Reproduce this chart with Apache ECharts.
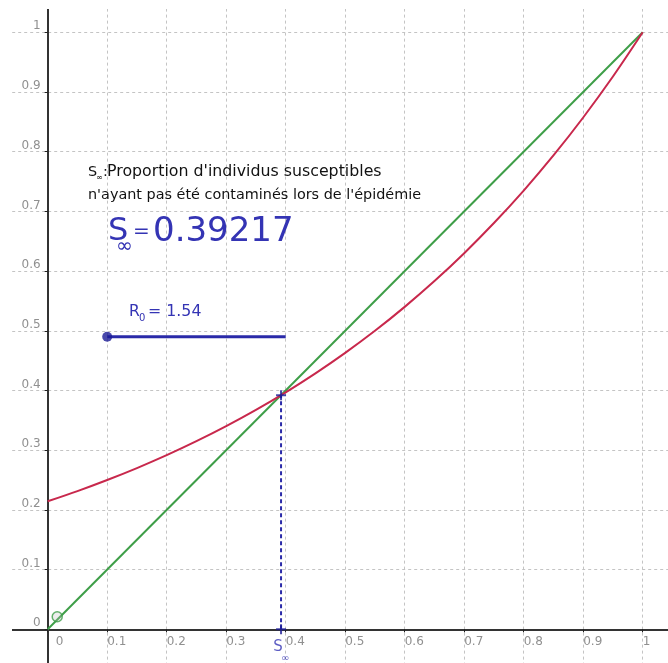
<!DOCTYPE html>
<html><head><meta charset="utf-8">
<script src="https://cdn.jsdelivr.net/npm/echarts@6/dist/echarts.min.js"></script>
<style>html,body{margin:0;padding:0;background:#fff}#c{width:668px;height:663px}</style>
</head><body><div id="c"></div>
<script>
// Red curve
const curveX = [0, 0.05, 0.1, 0.15, 0.2, 0.25, 0.3, 0.35, 0.4, 0.45, 0.5, 0.55, 0.6, 0.65, 0.7, 0.75, 0.8, 0.85, 0.9, 0.95, 1];
const curveY = [0.2144, 0.2315, 0.2501, 0.2701, 0.2917, 0.3151, 0.3403, 0.3675, 0.3969, 0.4287, 0.4630, 0.5000, 0.5401, 0.5833, 0.6300, 0.6805, 0.7349, 0.7937, 0.8573, 0.9259, 1];
// Green line y = x
const diagX = [0, 1];
const diagY = [0, 1];
// Values
const sInf = 0.39217;
const r0 = 1.54;
const sliderX = [0.1, 0.4];
const sliderY = 0.49;
const knobX = 0.1;
const originPoint = [0.016, 0.021];
const axisMin = -0.1, axisMax = 1.1, tickStep = 0.1;

const zip = (xs, ys) => xs.map((x, i) => [x, ys[i]]);
const FONT = '"DejaVu Sans", Verdana, sans-serif';
const fmtX = v => {
  if (v < -1e-9 || v > 1 + 1e-9) return '';
  const s = String(Math.round(v * 10) / 10);
  return Math.abs(v) < 1e-9 ? '{z|0}' : s;
};
const fmtY = v => (v < -1e-9 || v > 1 + 1e-9) ? '' : String(Math.round(v * 10) / 10);
const blue = '#2a2aa8';
const textBlue = '#3434b4';
const plus = 'path://M4,0H6V4H10V6H6V10H4V6H0V4H4Z';

const chart = echarts.init(document.getElementById('c'));
chart.setOption({
  animation: false,
  grid: { left: -11.8, top: -27.4, width: 714, height: 716.4, containLabel: false, outerBoundsMode: 'none' },
  xAxis: {
    type: 'value', min: axisMin, max: axisMax, interval: tickStep, position: 'bottom', offset: -59.7,
    axisLine: { onZero: false, lineStyle: { color: '#333', width: 2 } },
    axisTick: { show: true, length: 3, lineStyle: { color: '#222', width: 1 } },
    axisLabel: { formatter: fmtX, color: '#909090', fontSize: 12, fontFamily: FONT, align: 'left', margin: 7,
      rich: { z: { padding: [0, 0, 0, 8], color: '#909090', fontSize: 12, fontFamily: FONT } } },
    splitLine: { show: true, lineStyle: { color: '#c4c4c4', type: [3, 3], width: 1 } }
  },
  yAxis: {
    type: 'value', min: axisMin, max: axisMax, interval: tickStep, position: 'left', offset: -59.5,
    axisLine: { onZero: false, lineStyle: { color: '#333', width: 2 } },
    axisTick: { show: true, length: 3, lineStyle: { color: '#222', width: 1 } },
    axisLabel: { formatter: fmtY, color: '#909090', fontSize: 12, fontFamily: FONT, align: 'right', verticalAlign: 'bottom', margin: 7 },
    splitLine: { show: true, lineStyle: { color: '#c4c4c4', type: [3, 3], width: 1 } }
  },
  series: [
    { type: 'line', data: zip(diagX, diagY), symbol: 'none', lineStyle: { color: '#3e9e48', width: 2 }, z: 3 },
    { type: 'line', data: zip(curveX, curveY), symbol: 'none', smooth: 0.3, lineStyle: { color: '#c8284c', width: 2 }, z: 3 },
    { type: 'line', data: [[sInf, 0], [sInf, sInf]], symbol: 'none', lineStyle: { color: blue, width: 2, type: [4, 3] }, z: 4 },
    { type: 'line', data: [[sliderX[0], sliderY], [sliderX[1], sliderY]], symbol: 'none', lineStyle: { color: blue, width: 3 }, z: 4 },
    { type: 'scatter', data: [[knobX, sliderY]], symbol: 'circle', symbolSize: 10, itemStyle: { color: '#1c1c96' }, z: 5 },
    { type: 'scatter', data: [[sInf, sInf]], symbol: plus, symbolSize: 10, itemStyle: { color: '#1c1c96' }, z: 6 },
    { type: 'scatter', data: [[sInf, 0]], symbol: plus, symbolSize: 10, itemStyle: { color: '#1c1c96' }, z: 6,
      label: { show: true, position: 'bottom', distance: 7, offset: [-3, 0], formatter: '{s|S}\n{i|∞}',
        rich: { s: { color: textBlue, fontSize: 15, fontFamily: FONT, lineHeight: 12 }, i: { color: textBlue, fontSize: 10, fontFamily: FONT, padding: [0, 0, 0, 14], lineHeight: 10 } } } },
    { type: 'scatter', data: [originPoint], symbol: 'circle', symbolSize: 10, itemStyle: { color: 'rgba(190,190,190,0.35)', borderColor: '#3e9e48', borderWidth: 1.5 }, z: 6 }
  ],
  graphic: [
    { type: 'rect', shape: { x: 0, y: 0, width: 12, height: 663 }, style: { fill: '#fff' }, z: 100 },
    { type: 'rect', shape: { x: 0, y: 0, width: 668, height: 9 }, style: { fill: '#fff' }, z: 100 },
    { type: 'text', x: 88, y: 172, z: 50, style: { text: 'S', font: '14.4px ' + FONT, fill: '#111', verticalAlign: 'middle' } },
    { type: 'text', x: 96, y: 178, z: 50, style: { text: '∞', font: '8px ' + FONT, fill: '#111', verticalAlign: 'middle' } },
    { type: 'text', x: 103, y: 172, z: 50, style: { text: ':', font: '14.4px ' + FONT, fill: '#111', verticalAlign: 'middle' } },
    { type: 'text', x: 107, y: 172, z: 50, style: { text: "Proportion d'individus susceptibles", font: '15.8px ' + FONT, fill: '#111', verticalAlign: 'middle' } },
    { type: 'text', x: 88, y: 195, z: 50, style: { text: "n'ayant pas été contaminés lors de l'épidémie", font: '14.4px ' + FONT, fill: '#111', verticalAlign: 'middle' } },
    { type: 'text', x: 108, y: 232, z: 50, style: { text: 'S', font: '32px ' + FONT, fill: textBlue, verticalAlign: 'middle' } },
    { type: 'text', x: 116, y: 247, z: 50, style: { text: '∞', font: '20px ' + FONT, fill: textBlue, verticalAlign: 'middle' } },
    { type: 'text', x: 133, y: 232, z: 50, style: { text: '=', font: '20px ' + FONT, fill: textBlue, verticalAlign: 'middle' } },
    { type: 'text', x: 153, y: 232, z: 50, style: { text: sInf.toFixed(5), font: '34px ' + FONT, fill: textBlue, verticalAlign: 'middle' } },
    { type: 'text', x: 129, y: 312, z: 50, style: { text: 'R', font: '15.5px ' + FONT, fill: textBlue, verticalAlign: 'middle' } },
    { type: 'text', x: 139, y: 318, z: 50, style: { text: '0', font: '10px ' + FONT, fill: textBlue, verticalAlign: 'middle' } },
    { type: 'text', x: 148, y: 312, z: 50, style: { text: '= ' + r0.toFixed(2), font: '15.8px ' + FONT, fill: textBlue, verticalAlign: 'middle' } }
  ]
});
</script></body></html>
